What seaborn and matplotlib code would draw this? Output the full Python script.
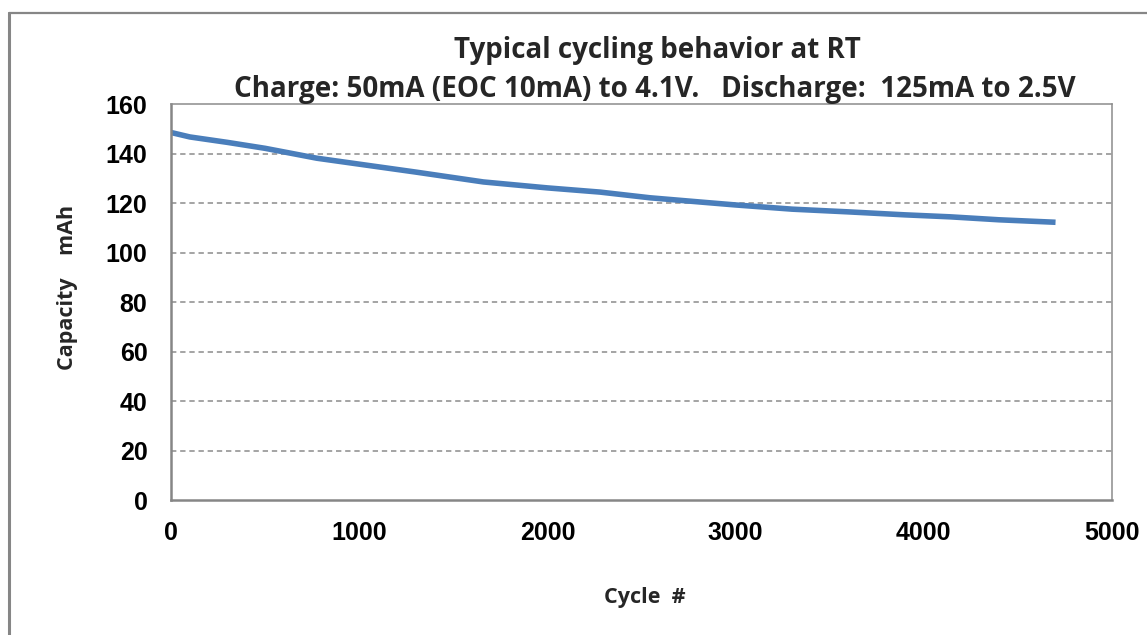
import pandas as pd
import matplotlib.pyplot as plt
from matplotlib.lines import Line2D
import seaborn as sns

# values
cycles = [0, 100, 300, 500, 775, 1000, 1300, 1660, 2000, 2280, 2545, 2810,
          3000, 3300, 3600, 3900, 4140, 4400, 4700]
capacity = [148.6, 146.8, 144.6, 142.2, 138.2, 135.8, 132.6, 128.6, 126.2,
            124.5, 122.2, 120.5, 119.3, 117.6, 116.5, 115.3, 114.5, 113.3, 112.3]
x_ticks = [0, 1000, 2000, 3000, 4000, 5000]
y_ticks = [0, 20, 40, 60, 80, 100, 120, 140, 160]

df = pd.DataFrame({"Cycle": cycles, "Capacity": capacity})

sns.set_theme(style="white")
plt.rcParams['font.family'] = ['Liberation Sans', 'DejaVu Sans']

W, H = 1147, 635
fig = plt.figure(figsize=(W / 100, H / 100), dpi=100)
ax = fig.add_axes([171 / W, 1 - 500 / H, (1112 - 171) / W, (500 - 104.3) / H])

sns.lineplot(data=df, x="Cycle", y="Capacity", ax=ax, color="#4a7ebb",
             linewidth=4.0, solid_capstyle="butt")

ax.set_xlim(0, 5000)
ax.set_ylim(0, 160)
ax.set_xticks(x_ticks)
ax.set_yticks(y_ticks)
ax.tick_params(axis="both", labelsize=18, colors="#868686", labelcolor="black",
               direction="out", width=1.2)
ax.tick_params(axis="y", length=6, pad=11)
ax.tick_params(axis="x", length=5, pad=10)
for lab in ax.get_xticklabels() + ax.get_yticklabels():
    lab.set_fontweight("bold")

# dashed gridlines (Excel style), not at 0
for v in y_ticks[1:-1]:
    ax.axhline(v, color="#8c8c8c", linewidth=1.1, linestyle=(0, (3.5, 2.5)), zorder=0)

for side in ["left", "bottom"]:
    ax.spines[side].set_color("#868686")
    ax.spines[side].set_linewidth(1.8)
for side in ["top", "right"]:
    ax.spines[side].set_color("#8c8c8c")
    ax.spines[side].set_linewidth(1.1)

ax.set_xlabel("")
ax.set_ylabel("")

tfont = ['Open Sans', 'DejaVu Sans']
fig.text(657 / W, 1 - 58 / H, "Typical cycling behavior at RT", ha="center",
         va="baseline", fontsize=20, fontweight="bold", family=tfont)
fig.text(655 / W, 1 - 97 / H,
         "Charge: 50mA (EOC 10mA) to 4.1V.   Discharge:  125mA to 2.5V",
         ha="center", va="baseline", fontsize=20, fontweight="bold", family=tfont)
fig.text(67 / W, 1 - 287 / H, "Capacity    mAh", rotation=90, ha="center",
         va="center", fontsize=15.5, fontweight="bold", family=tfont)
fig.text(645 / W, 1 - 597 / H, "Cycle  #", ha="center", va="center",
         fontsize=15.5, fontweight="bold", family=tfont)

# outer chart border (only left and top are inside the picture)
fig.add_artist(Line2D([8.5 / W, 8.5 / W], [0, 1 - 13 / H], color="#868686",
                      linewidth=2.2, transform=fig.transFigure))
fig.add_artist(Line2D([8.5 / W, 1], [1 - 13 / H, 1 - 13 / H], color="#868686",
                      linewidth=1.6, transform=fig.transFigure))

fig.savefig("out.png", dpi=100, facecolor="white")
